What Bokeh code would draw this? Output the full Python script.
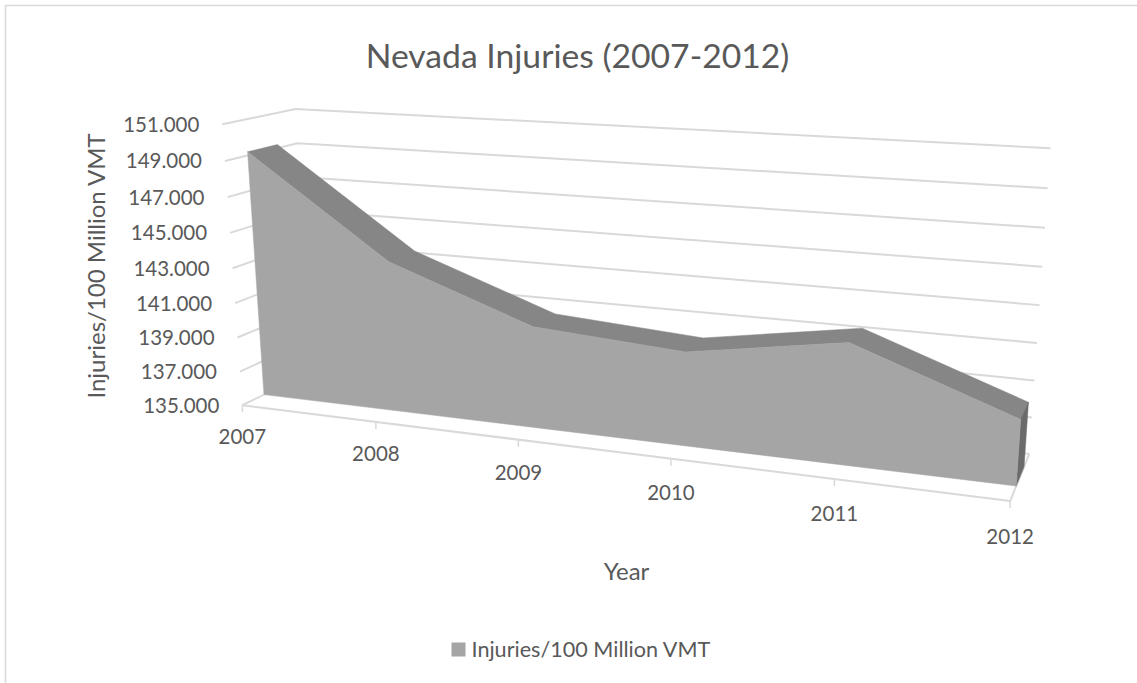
import numpy as np
from bokeh.core.properties import value
from bokeh.embed import file_html
from bokeh.models import Range1d
from bokeh.plotting import figure
from bokeh.resources import INLINE

# Chart data
years = ["2007", "2008", "2009", "2010", "2011", "2012"]
injuries = [149.2, 143.6, 140.7, 140.15, 141.5, 138.45]
value_ticks = [135, 137, 139, 141, 143, 145, 147, 149, 151]
title_text = "Nevada Injuries (2007-2012)"
x_title = "Year"
y_title = "Injuries/100 Million VMT"
legend_label = "Injuries/100 Million VMT"

TEXT = "#595959"
GRID = "#d9d9d9"
FRONT = "#a5a5a5"
TOP = "#868686"
SIDE = "#6b6b6b"
FONT = value("Lato")
V_MIN, V_MAX = value_ticks[0], value_ticks[-1]
DEPTH_FRONT, DEPTH_BACK = 0.3, 0.71

# Camera: known box reference points (u along years, v up, w into the page)
# mapped to the page, solved as a projective transform.
camera_points = [
    (0, 1, 0, 222, 125), (0, 0, 0, 242, 403), (0, 1, 1, 295, 107), (0, 0, 1, 311, 374),
    (1, 1, 1, 1050, 148), (1, 0, 1, 1028, 452), (1, 0, 0, 1011, 501),
    (0.2, 0, 0, 375, 421), (0.4, 0, 0, 518, 438), (0.8, 0, 0, 833, 480),
    (0, 0.875, 0, 224.5, 161), (0, 0.875, 1, 297, 142), (1, 0.875, 1, 1047, 188),
    (1, 0.5, 1, 1039, 305), (1, 0.375, 1, 1036, 343), (1, 0.25, 1, 1034, 380),
    (1, 0.125, 1, 1032, 416), (0, 0.125, 0, 239, 371),
]
rows, rhs = [], []
for u, v, w, px, py in camera_points:
    rows.append([u, v, w, 1, 0, 0, 0, 0, -px * u, -px * v, -px * w])
    rhs.append(px)
    rows.append([0, 0, 0, 0, u, v, w, 1, -py * u, -py * v, -py * w])
    rhs.append(py)
cam = np.linalg.lstsq(np.array(rows, float), np.array(rhs, float), rcond=None)[0]


def project(u, val, w):
    """Project a (year fraction, value, depth) position onto the page."""
    v = (val - V_MIN) / (V_MAX - V_MIN)
    d = cam[8] * u + cam[9] * v + cam[10] * w + 1
    return ((cam[0] * u + cam[1] * v + cam[2] * w + cam[3]) / d,
            (cam[4] * u + cam[5] * v + cam[6] * w + cam[7]) / d)


p = figure(width=1137, height=683, output_backend="svg", toolbar_location=None,
           x_range=Range1d(0, 1137), y_range=Range1d(683, 0), min_border=0,
           x_axis_type=None, y_axis_type=None, outline_line_color=None)
p.grid.visible = False
p.background_fill_color = "white"

# Chart frame: top and left edges
p.line([5, 5, 1137], [683, 5, 5], line_color=GRID, line_width=1.5)

# Side and back wall gridlines
for t in value_ticks:
    pts = [project(0, t, 0), project(0, t, 1), project(1, t, 1)]
    p.line([q[0] for q in pts], [q[1] for q in pts], line_color=GRID, line_width=2)

# Floor edges and year ticks
floor = [project(0, V_MIN, 0), project(1, V_MIN, 0), project(1, V_MIN, 1)]
p.line([q[0] for q in floor], [q[1] for q in floor], line_color=GRID, line_width=2)
n = len(years)
for i in range(n):
    fx, fy = project(i / (n - 1), V_MIN, 0)
    p.line([fx, fx], [fy, fy + 7], line_color=GRID, line_width=1.5)

# Area body built from the series values
us = [i / (n - 1) for i in range(n)]
front_top = [project(u, val, DEPTH_FRONT) for u, val in zip(us, injuries)]
back_top = [project(u, val, DEPTH_BACK) for u, val in zip(us, injuries)]
base_front = [project(0, V_MIN, DEPTH_FRONT), project(1, V_MIN, DEPTH_FRONT)]
base_back = project(1, V_MIN, DEPTH_BACK)

top_face = front_top + back_top[::-1]
p.patch([q[0] for q in top_face], [q[1] for q in top_face], fill_color=TOP, line_color=TOP, line_width=0.5)

side_face = [front_top[-1], back_top[-1], base_back, base_front[1]]
p.patch([q[0] for q in side_face], [q[1] for q in side_face], fill_color=SIDE, line_color=SIDE, line_width=0.5)

front_face = [base_front[0]] + front_top + [base_front[1]]
p.patch([q[0] for q in front_face], [q[1] for q in front_face], fill_color=FRONT, line_color=FRONT, line_width=0.5)

# Value labels beside the side wall
lab = [project(0, t, 0) for t in value_ticks]
p.text([q[0] - 23 for q in lab], [q[1] for q in lab], text=[f"{t:.3f}" for t in value_ticks],
       text_font=FONT, text_font_size="20.5px", text_color=TEXT, text_align="right", text_baseline="middle")

# Year labels under the floor
lab = [project(u, V_MIN, 0) for u in us]
p.text([q[0] for q in lab], [q[1] + 31 + 4 * u for q, u in zip(lab, us)], text=years,
       text_font=FONT, text_font_size="20.5px", text_color=TEXT, text_align="center", text_baseline="middle")

# Titles
p.text([577], [54.5], text=[title_text], text_font=FONT, text_font_size="33.7px", text_color=TEXT,
       text_align="center", text_baseline="middle")
p.text([95], [265], text=[y_title], angle=[np.pi / 2], text_font=FONT, text_font_size="24px",
       text_color=TEXT, text_align="center", text_baseline="middle")
p.text([626], [570], text=[x_title], text_font=FONT, text_font_size="24px", text_color=TEXT,
       text_align="center", text_baseline="middle")

# Legend
p.quad(left=[451], right=[465], top=[642], bottom=[656], fill_color=FRONT, line_color=None)
p.text([471], [648], text=[legend_label], text_font=FONT, text_font_size="21.6px", text_color=TEXT,
       text_align="left", text_baseline="middle")

open("out.html", "w").write(file_html(p, INLINE))
